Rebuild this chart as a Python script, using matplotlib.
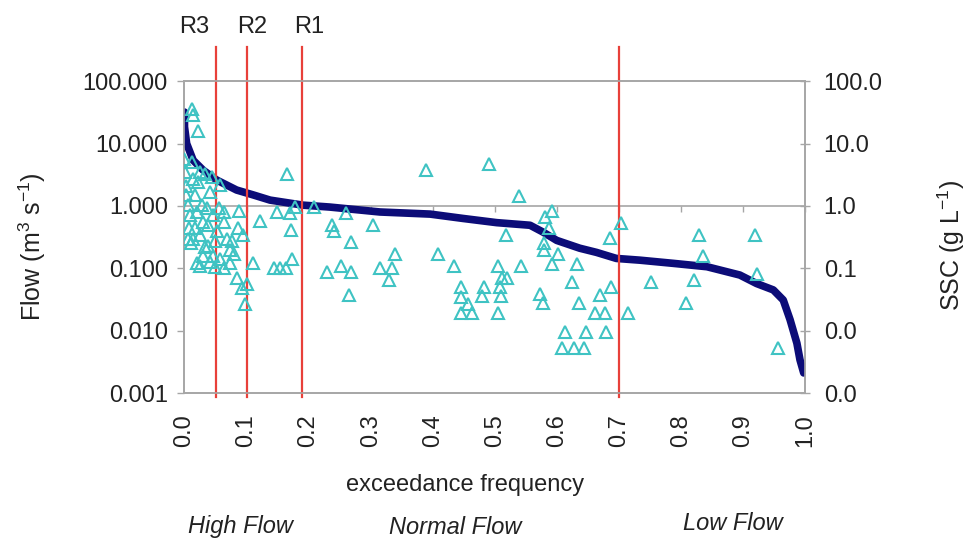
"""
Flow duration curve with SSC samples
"""

import numpy as np
import matplotlib
matplotlib.use('Agg')
import matplotlib.pyplot as plt
from matplotlib.ticker import FixedLocator, NullLocator

plt.rcParams['font.family'] = ['Liberation Sans', 'DejaVu Sans']
plt.rcParams['mathtext.fontset'] = 'custom'
plt.rcParams['mathtext.rm'] = 'Liberation Sans'
plt.rcParams['mathtext.it'] = 'Liberation Sans:italic'

# flow duration curve
flow_freq = [0.0, 0.0, 0.0035, 0.014, 0.030, 0.052, 0.084, 0.111, 0.138, 0.191,
             0.234, 0.315, 0.396, 0.449, 0.503, 0.557, 0.578, 0.600, 0.637, 0.664,
             0.696, 0.734, 0.788, 0.842, 0.895, 0.922, 0.949, 0.965, 0.976, 0.987,
             0.992, 0.998]
flow_vals = [32, 18.6, 10, 5.4, 3.75, 2.6, 1.8, 1.5, 1.24, 1.03,
             0.96, 0.80, 0.74, 0.63, 0.54, 0.49, 0.38, 0.28, 0.21, 0.18,
             0.144, 0.135, 0.12, 0.106, 0.078, 0.057, 0.045, 0.031, 0.015, 0.0063,
             0.0034, 0.0021]

# SSC samples
ssc_freq = [0.012, 0.014, 0.022, 0.166, 0.149, 0.170, 0.178, 0.171, 0.122, 0.088,
            0.110, 0.144, 0.154, 0.164, 0.174, 0.097, 0.092, 0.084, 0.073, 0.063,
            0.049, 0.076, 0.073, 0.087, 0.095, 0.063, 0.063, 0.056, 0.057, 0.041,
            0.033, 0.044, 0.0, 0.001, 0.003, 0.003, 0.006, 0.009, 0.014, 0.017,
            0.020, 0.017, 0.014, 0.025, 0.030, 0.028, 0.036, 0.038, 0.030, 0.025,
            0.041, 0.046, 0.049, 0.038, 0.046, 0.012, 0.022, 0.025, 0.020, 0.008,
            0.011, 0.005, 0.033, 0.052, 0.058, 0.068, 0.080, 0.100,
            0.208, 0.260, 0.237, 0.241, 0.304, 0.268, 0.339, 0.409, 0.230, 0.252,
            0.268, 0.315, 0.335, 0.330, 0.265, 0.434, 0.446, 0.446, 0.457, 0.446,
            0.464, 0.483, 0.479, 0.506, 0.511, 0.520, 0.508, 0.510, 0.506, 0.543,
            0.518, 0.390, 0.491, 0.539,
            0.581, 0.593, 0.588, 0.579, 0.580, 0.602, 0.592, 0.632, 0.625, 0.688,
            0.670, 0.636, 0.573, 0.577, 0.662, 0.678, 0.613, 0.647, 0.680, 0.609,
            0.628, 0.644, 0.685, 0.703, 0.714, 0.752, 0.808, 0.821, 0.830, 0.836,
            0.919, 0.923, 0.956]
ssc_vals = [36, 28.5, 15.8, 3.2, 0.80, 0.76, 0.97, 0.41, 0.57, 0.83,
            0.12, 0.10, 0.10, 0.10, 0.14, 0.027, 0.049, 0.071, 0.12, 0.10,
            0.106, 0.27, 0.20, 0.45, 0.34, 0.56, 0.80, 0.91, 2.15, 1.7,
            3.3, 2.9, 5.7, 3.5, 2.1, 1.5, 1.03, 0.71, 2.75, 1.48,
            0.81, 0.44, 0.30, 0.34, 0.56, 1.03, 0.91, 0.23, 0.16, 0.11,
            0.126, 0.16, 0.27, 0.49, 0.71, 5.1, 2.45, 3.5, 0.12, 0.45,
            0.25, 0.30, 0.22, 0.40, 0.14, 0.30, 0.17, 0.055,
            0.97, 0.78, 0.49, 0.40, 0.49, 0.26, 0.17, 0.17, 0.087, 0.108,
            0.087, 0.10, 0.10, 0.066, 0.037, 0.108, 0.050, 0.035, 0.027, 0.019,
            0.019, 0.050, 0.036, 0.108, 0.069, 0.069, 0.050, 0.036, 0.019, 0.108,
            0.34, 3.75, 4.7, 1.45,
            0.67, 0.84, 0.44, 0.25, 0.20, 0.17, 0.117, 0.117, 0.061, 0.050,
            0.037, 0.028, 0.039, 0.028, 0.019, 0.019, 0.0096, 0.0096, 0.0096, 0.0052,
            0.0052, 0.0052, 0.31, 0.54, 0.019, 0.061, 0.028, 0.066, 0.34, 0.16,
            0.34, 0.081, 0.0052]

# regime thresholds
thresh_freq = [0.05, 0.10, 0.19, 0.70]
thresh_names = ['R3', 'R2', 'R1']

y_ticks = [0.001, 0.01, 0.1, 1, 10, 100]
flow_tick_labels = ['0.001', '0.010', '0.100', '1.000', '10.000', '100.000']
ssc_tick_labels = ['0.0', '0.0', '0.1', '1.0', '10.0', '100.0']
x_ticks = [0.0, 0.1, 0.2, 0.3, 0.4, 0.5, 0.6, 0.7, 0.8, 0.9, 1.0]
x_tick_labels = ['0.0', '0.1', '0.2', '0.3', '0.4', '0.5', '0.6', '0.7', '0.8', '0.9', '1.0']

regimes = ['High Flow', 'Normal Flow', 'Low Flow']

GRAY = '#a6a6a6'
NAVY = '#0c0c78'
TEAL = '#3fc3c3'
RED = '#e8403a'
TXT = '#222222'
FS = 17

fig = plt.figure(figsize=(9.71, 5.47), dpi=100)
ax = fig.add_axes([0.190, 0.2815, 0.639, 0.570])

ax.set_yscale('log')
ax.set_xlim(0, 1)
ax.set_ylim(0.001, 100)

ax.plot(flow_freq, flow_vals, color=NAVY, linewidth=5.5,
        solid_capstyle='round', solid_joinstyle='round', zorder=3)

for xv in thresh_freq:
    ax.axvline(xv, ymin=-0.013, ymax=1.109, color=RED, linewidth=1.6,
               clip_on=False, zorder=4)

# left axis
ax.yaxis.set_major_locator(FixedLocator(y_ticks))
ax.yaxis.set_minor_locator(NullLocator())
ax.set_yticklabels(flow_tick_labels)
ax.tick_params(axis='y', direction='out', length=5, width=1, color=GRAY,
               labelsize=FS, pad=7, labelcolor=TXT)

ax.set_xticks(x_ticks)
ax.set_xticklabels(x_tick_labels)
ax.tick_params(axis='x', length=0, pad=15, labelsize=FS, labelrotation=90,
               labelcolor=TXT)

for side in ['left', 'right', 'top', 'bottom']:
    ax.spines[side].set_color(GRAY)
    ax.spines[side].set_linewidth(1.2)

# x axis line crossing at 1.0
sec = ax.secondary_xaxis(0.6)
sec.set_xticks(x_ticks)
sec.tick_params(axis='x', bottom=True, top=False, labelbottom=False, labeltop=False,
                direction='out', length=4, width=1, color=GRAY)
for side in ['left', 'right', 'top', 'bottom']:
    sec.spines[side].set_color(GRAY)
    sec.spines[side].set_linewidth(1.2)

# right axis (SSC)
ax2 = ax.twinx()
ax2.set_yscale('log')
ax2.set_ylim(0.001, 100)
ax2.plot(ssc_freq, ssc_vals, linestyle='none', marker='^', markersize=8.5,
         markerfacecolor='none', markeredgecolor=TEAL, markeredgewidth=1.5,
         zorder=5)
ax2.yaxis.set_major_locator(FixedLocator(y_ticks))
ax2.yaxis.set_minor_locator(NullLocator())
ax2.set_yticklabels(ssc_tick_labels)
ax2.tick_params(axis='y', direction='inout', length=7, width=1, color=GRAY,
                labelsize=FS, pad=10, labelcolor=TXT)
for side in ['left', 'right', 'top', 'bottom']:
    ax2.spines[side].set_color(GRAY)
    ax2.spines[side].set_linewidth(1.2)

# labels
fig.text(32 / 971, 1 - 247 / 547, 'Flow (m$^3$ s$^{-1}$)', rotation=90,
         ha='center', va='center', fontsize=18, color=TXT)
fig.text(951 / 971, 1 - 245 / 547, 'SSC (g L$^{-1}$)', rotation=90,
         ha='center', va='center', fontsize=18, color=TXT)
fig.text(465 / 971, 1 - 485 / 547, 'exceedance frequency',
         ha='center', va='center', fontsize=FS, color=TXT)

for name, xp in zip(thresh_names, [194, 252, 309]):
    fig.text(xp / 971, 1 - 27 / 547, name, ha='center', va='center',
             fontsize=FS, color=TXT)

for name, xp, yp in zip(regimes, [240, 455, 733], [527, 527, 524]):
    fig.text(xp / 971, 1 - yp / 547, name, ha='center', va='center',
             fontsize=FS, style='italic', color=TXT)

fig.savefig('out.png', dpi=100)
plt.close(fig)
